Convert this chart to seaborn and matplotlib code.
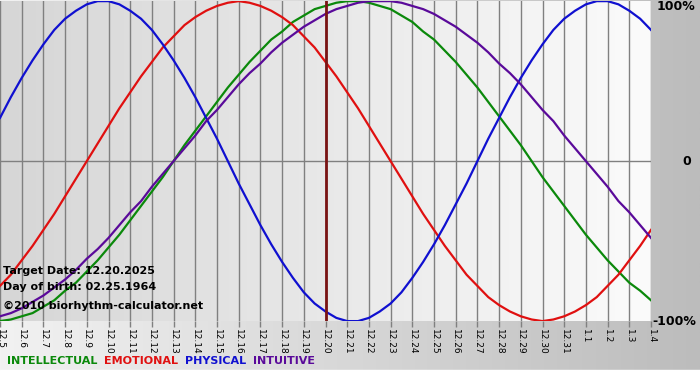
import numpy as np
import pandas as pd

import matplotlib
matplotlib.use("Agg")
import matplotlib.pyplot as plt
from matplotlib.colors import LinearSegmentedColormap
import seaborn as sns

# day labels, 12.5 .. 1.4
dates = [f"12.{d}" for d in range(5, 32)] + [f"1.{d}" for d in range(1, 5)]

# values in percent, every half day (12.5, 12.5 noon, 12.6, ...)
physical = [27, 40, 52, 63, 73, 82, 89, 94, 98, 100, 100, 98, 94, 89, 82, 73,
            63, 52, 40, 27, 14, 0, -14, -27, -40, -52, -63, -73, -82, -89, -94,
            -98, -100, -100, -98, -94, -89, -82, -73, -63, -52, -40, -27, -14, 0,
            14, 27, 40, 52, 63, 73, 82, 89, 94, 98, 100, 100, 98, 94, 89, 82]
emotional = [-78, -71, -62, -53, -43, -33, -22, -11, 0, 11, 22, 33, 43, 53, 62,
             71, 78, 85, 90, 94, 97, 99, 100, 99, 97, 94, 90, 85, 78, 71, 62, 53,
             43, 33, 22, 11, 0, -11, -22, -33, -43, -53, -62, -71, -78, -85, -90,
             -94, -97, -99, -100, -99, -97, -94, -90, -85, -78, -71, -62, -53, -43]
intellectual = [-100, -99, -97, -95, -91, -87, -81, -76, -69, -62, -54, -46, -37,
                -28, -19, -10, 0, 10, 19, 28, 37, 46, 54, 62, 69, 76, 81, 87, 91,
                95, 97, 99, 100, 100, 99, 97, 95, 91, 87, 81, 76, 69, 62, 54, 46,
                37, 28, 19, 10, 0, -10, -19, -28, -37, -46, -54, -62, -69, -76,
                -81, -87]
intuitive = [-97, -95, -92, -88, -84, -79, -74, -68, -61, -55, -48, -40, -32, -25,
             -16, -8, 0, 8, 16, 25, 32, 40, 48, 55, 61, 68, 74, 79, 84, 88, 92, 95,
             97, 99, 100, 100, 100, 99, 97, 95, 92, 88, 84, 79, 74, 68, 61, 55, 48,
             40, 32, 25, 16, 8, 0, -8, -16, -25, -32, -40, -48]

target_date = "12.20"

colors = {
    "INTELLECTUAL": "#0b890b",
    "EMOTIONAL": "#e01010",
    "PHYSICAL": "#1010d0",
    "INTUITIVE": "#5a0a9a",
}

rows = []
for name, vals in [("INTELLECTUAL", intellectual), ("EMOTIONAL", emotional),
                   ("PHYSICAL", physical), ("INTUITIVE", intuitive)]:
    for i, v in enumerate(vals):
        rows.append({"day": i / 2, "value": v, "cycle": name})
df = pd.DataFrame(rows)

fig = plt.figure(figsize=(7, 3.8), dpi=100)

# outer background: horizontal gray gradient, white strip at bottom
bg = fig.add_axes([0, 0, 1, 1])
outer_cmap = LinearSegmentedColormap.from_list("outer", ["#f2f2f2", "#bcbcbc"])
bg.imshow(np.linspace(0, 1, 256).reshape(1, -1), extent=[0, 1, 0, 1],
          aspect="auto", cmap=outer_cmap)
bg.axhspan(0, 0.026, color="white")
bg.set_xlim(0, 1)
bg.set_ylim(0, 1)
bg.axis("off")

ax = fig.add_axes([0, 0.155, 0.93, 0.842])
inner_cmap = LinearSegmentedColormap.from_list("inner", ["#d6d6d6", "#fbfbfb"])
ax.imshow(np.linspace(0, 1, 256).reshape(1, -1), extent=[0, len(dates) - 1, -100, 100],
          aspect="auto", cmap=inner_cmap, zorder=0)

ax.set_xticks(range(len(dates)))
ax.set_xticklabels(dates, rotation=270, fontsize=6.5, family="DejaVu Sans")
ax.set_yticks([])
ax.grid(axis="x", color="#808080", linewidth=1, zorder=1)
ax.set_axisbelow(True)
ax.axhline(0, color="#808080", linewidth=1, zorder=1)
ax.tick_params(axis="x", length=4, width=1, color="#808080", pad=2)
for s in ax.spines.values():
    s.set_visible(False)

sns.lineplot(data=df, x="day", y="value", hue="cycle", palette=colors,
             hue_order=list(colors.keys()), linewidth=1.6, legend=False, ax=ax, zorder=3)

ax.axvline(dates.index(target_date), color="#7a1414", linewidth=2, zorder=4)

ax.set_xlim(0, len(dates) - 1)
ax.set_ylim(-100, 100)
ax.set_xlabel("")
ax.set_ylabel("")

# overlay info text
fig.text(0.004, 0.287, "Target Date: 12.20.2025", fontsize=8, weight="bold", va="center")
fig.text(0.004, 0.245, "Day of birth: 02.25.1964", fontsize=8, weight="bold", va="center")
fig.text(0.004, 0.195, "\u00a92010 biorhythm-calculator.net", fontsize=8, weight="bold", va="center")

# right side scale labels
fig.text(0.938, 0.982, "100%", fontsize=9, weight="bold", va="center")
fig.text(0.975, 0.576, "0", fontsize=9, weight="bold", va="center")
fig.text(0.932, 0.155, "-100%", fontsize=9, weight="bold", va="center")

# colored legend words
x = 0.01
for name, col in colors.items():
    t = fig.text(x, 0.05, name, fontsize=8, weight="bold", color=col, va="center")
    fig.canvas.draw()
    w = t.get_window_extent().width / fig.bbox.width
    x += w + 0.01

fig.savefig("out.png", dpi=100)
